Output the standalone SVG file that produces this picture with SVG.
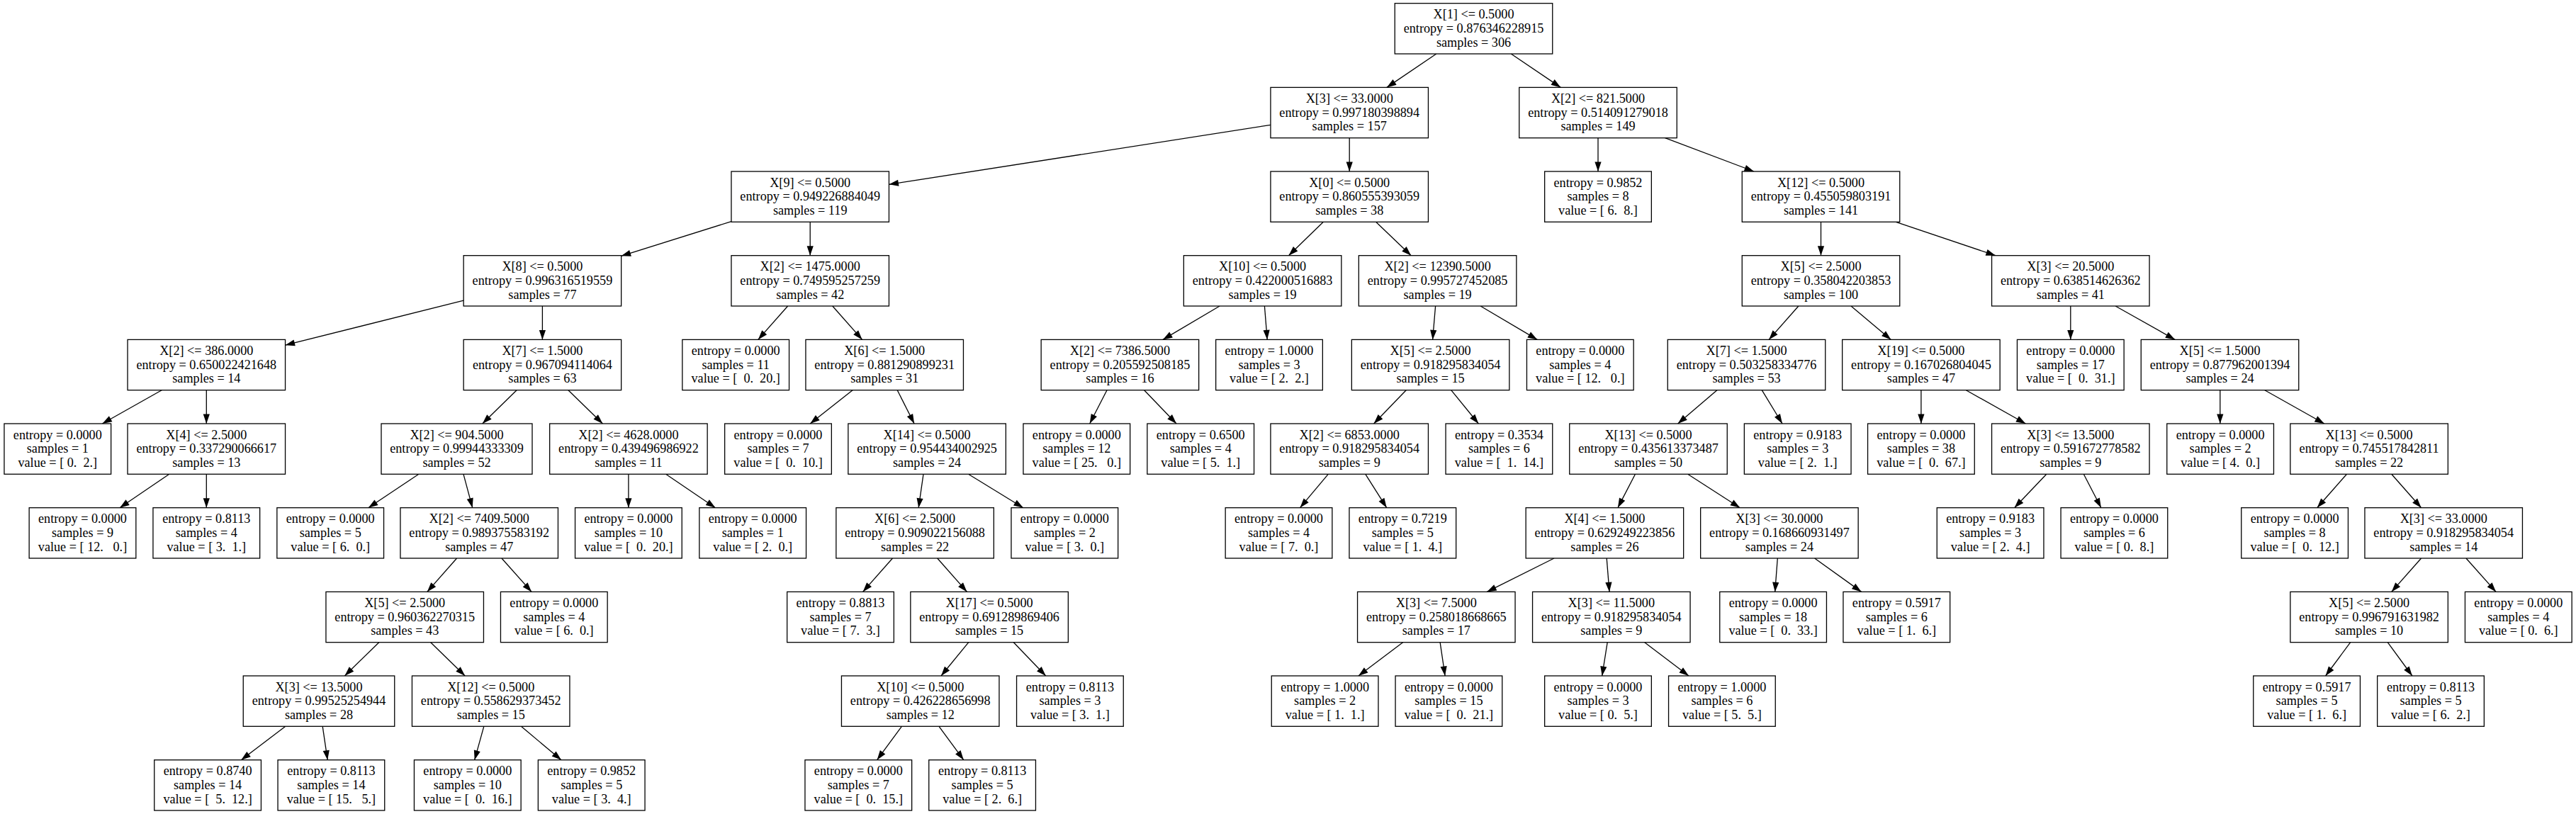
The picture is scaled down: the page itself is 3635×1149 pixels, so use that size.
<svg xmlns="http://www.w3.org/2000/svg" width="3635" height="1149" viewBox="0 0 3635 1149" xml:space="preserve">
<style>
.n rect{fill:#fff;stroke:#000;stroke-width:1.3}
.n text{font-family:"Liberation Serif","Times New Roman",serif;font-size:18.2px;text-anchor:middle;fill:#000;white-space:pre}
#edges line{stroke:#000;stroke-width:1.3;marker-end:url(#ah)}
</style>
<defs>
<marker id="ah" markerUnits="userSpaceOnUse" markerWidth="14" markerHeight="10" refX="13.5" refY="5" orient="auto" overflow="visible">
<path d="M0,0.4 L13.5,5 L0,9.6 Z" fill="#000"/>
</marker>
</defs>
<rect width="3635" height="1149" fill="#fff"/>
<g id="edges">
<line x1="2026.8" y1="76" x2="1956.9" y2="123.4"/>
<line x1="2132.3" y1="76" x2="2202.3" y2="123.4"/>
<line x1="1792.95" y1="176.35" x2="1254.45" y2="260.35"/>
<line x1="1904.2" y1="194.7" x2="1904.2" y2="242"/>
<line x1="2255" y1="194.7" x2="2255" y2="242"/>
<line x1="2349.5" y1="194.7" x2="2475" y2="242"/>
<line x1="1031.95" y1="312.64" x2="876.65" y2="361.36"/>
<line x1="1143.2" y1="313.3" x2="1143.2" y2="360.7"/>
<line x1="1867.35" y1="313.3" x2="1818.45" y2="360.7"/>
<line x1="1941.6" y1="313.3" x2="1991.2" y2="360.7"/>
<line x1="2569.5" y1="313.3" x2="2569.5" y2="360.7"/>
<line x1="2675.4" y1="313.3" x2="2815.9" y2="360.7"/>
<line x1="654.15" y1="424.15" x2="402.55" y2="487.15"/>
<line x1="765.4" y1="432" x2="765.4" y2="479.4"/>
<line x1="1111.64" y1="432" x2="1069.76" y2="479.4"/>
<line x1="1174.76" y1="432" x2="1216.64" y2="479.4"/>
<line x1="1721.1" y1="432" x2="1640.9" y2="479.4"/>
<line x1="1784.4" y1="432" x2="1788.2" y2="479.4"/>
<line x1="2025.6" y1="432" x2="2021.6" y2="479.4"/>
<line x1="2089.1" y1="432" x2="2169.3" y2="479.4"/>
<line x1="2537.9" y1="432" x2="2496.1" y2="479.4"/>
<line x1="2612" y1="432" x2="2668.4" y2="479.4"/>
<line x1="2921.8" y1="432" x2="2921.8" y2="479.4"/>
<line x1="2985.1" y1="432" x2="3069.2" y2="479.4"/>
<line x1="228.2" y1="550.7" x2="144.4" y2="598"/>
<line x1="291.3" y1="550.7" x2="291.3" y2="598"/>
<line x1="729.1" y1="550.7" x2="680.8" y2="598"/>
<line x1="801.9" y1="550.7" x2="850.4" y2="598"/>
<line x1="1203.1" y1="550.7" x2="1143.2" y2="598"/>
<line x1="1266.2" y1="550.7" x2="1290.1" y2="598"/>
<line x1="1562" y1="550.7" x2="1537.7" y2="598"/>
<line x1="1614.6" y1="550.7" x2="1660" y2="598"/>
<line x1="1984.2" y1="550.7" x2="1938.6" y2="598"/>
<line x1="2047.7" y1="550.7" x2="2086.3" y2="598"/>
<line x1="2422.9" y1="550.7" x2="2367.6" y2="598"/>
<line x1="2486.2" y1="550.7" x2="2515" y2="598"/>
<line x1="2710.9" y1="550.7" x2="2710.9" y2="598"/>
<line x1="2774.3" y1="550.7" x2="2858.4" y2="598"/>
<line x1="3132.8" y1="550.7" x2="3132.8" y2="598"/>
<line x1="3195.8" y1="550.7" x2="3279.8" y2="598"/>
<line x1="238.8" y1="669.3" x2="169" y2="716.7"/>
<line x1="291.3" y1="669.3" x2="291.3" y2="716.7"/>
<line x1="590.9" y1="669.3" x2="519.8" y2="716.7"/>
<line x1="654" y1="669.3" x2="666.7" y2="716.7"/>
<line x1="886.9" y1="669.3" x2="886.9" y2="716.7"/>
<line x1="939.6" y1="669.3" x2="1009.5" y2="716.7"/>
<line x1="1303" y1="669.3" x2="1296.2" y2="716.7"/>
<line x1="1366.5" y1="669.3" x2="1443.9" y2="716.7"/>
<line x1="1874.2" y1="669.3" x2="1834.5" y2="716.7"/>
<line x1="1926.8" y1="669.3" x2="1956.7" y2="716.7"/>
<line x1="2307.5" y1="669.3" x2="2282.9" y2="716.7"/>
<line x1="2381.6" y1="669.3" x2="2455.3" y2="716.7"/>
<line x1="2887.8" y1="669.3" x2="2842.6" y2="716.7"/>
<line x1="2940.3" y1="669.3" x2="2964.9" y2="716.7"/>
<line x1="3311.5" y1="669.3" x2="3269.7" y2="716.7"/>
<line x1="3374.7" y1="669.3" x2="3416.6" y2="716.7"/>
<line x1="644.6" y1="788" x2="602.8" y2="835.4"/>
<line x1="707.9" y1="788" x2="750.1" y2="835.4"/>
<line x1="1259.5" y1="788" x2="1217.6" y2="835.4"/>
<line x1="1322.7" y1="788" x2="1364.5" y2="835.4"/>
<line x1="2193" y1="788" x2="2098.2" y2="835.4"/>
<line x1="2267.2" y1="788" x2="2271" y2="835.4"/>
<line x1="2508.3" y1="788" x2="2504.7" y2="835.4"/>
<line x1="2560.6" y1="788" x2="2626.6" y2="835.4"/>
<line x1="3416.6" y1="788" x2="3374.7" y2="835.4"/>
<line x1="3479.9" y1="788" x2="3522.1" y2="835.4"/>
<line x1="534.8" y1="906.7" x2="486.4" y2="954"/>
<line x1="607.7" y1="906.7" x2="656.2" y2="954"/>
<line x1="1366.8" y1="906.7" x2="1328" y2="954"/>
<line x1="1430.3" y1="906.7" x2="1475.7" y2="954"/>
<line x1="1979.6" y1="906.7" x2="1916.9" y2="954"/>
<line x1="2032.1" y1="906.7" x2="2039.1" y2="954"/>
<line x1="2268.2" y1="906.7" x2="2260.7" y2="954"/>
<line x1="2320.7" y1="906.7" x2="2383" y2="954"/>
<line x1="3316.7" y1="906.7" x2="3281.6" y2="954"/>
<line x1="3369.2" y1="906.7" x2="3403.9" y2="954"/>
<line x1="402.8" y1="1025.3" x2="340.3" y2="1072.7"/>
<line x1="455.2" y1="1025.3" x2="462.2" y2="1072.7"/>
<line x1="682.8" y1="1025.3" x2="669.7" y2="1072.7"/>
<line x1="735.4" y1="1025.3" x2="792" y2="1072.7"/>
<line x1="1272.4" y1="1025.3" x2="1237.6" y2="1072.7"/>
<line x1="1325" y1="1025.3" x2="1359.8" y2="1072.7"/>
</g>
<g id="n0" class="n" transform="translate(2079.5,4.7)"><rect x="-111.25" width="222.5" height="71.3"/><text><tspan x="0" y="21.5">X[1] &lt;= 0.5000</tspan><tspan x="0" y="41.3">entropy = 0.876346228915</tspan><tspan x="0" y="61.1">samples = 306</tspan></text></g>
<g id="n1" class="n" transform="translate(1904.2,123.4)"><rect x="-111.25" width="222.5" height="71.3"/><text><tspan x="0" y="21.5">X[3] &lt;= 33.0000</tspan><tspan x="0" y="41.3">entropy = 0.997180398894</tspan><tspan x="0" y="61.1">samples = 157</tspan></text></g>
<g id="n2" class="n" transform="translate(2255,123.4)"><rect x="-111.25" width="222.5" height="71.3"/><text><tspan x="0" y="21.5">X[2] &lt;= 821.5000</tspan><tspan x="0" y="41.3">entropy = 0.514091279018</tspan><tspan x="0" y="61.1">samples = 149</tspan></text></g>
<g id="n3" class="n" transform="translate(1143.2,242)"><rect x="-111.25" width="222.5" height="71.3"/><text><tspan x="0" y="21.5">X[9] &lt;= 0.5000</tspan><tspan x="0" y="41.3">entropy = 0.949226884049</tspan><tspan x="0" y="61.1">samples = 119</tspan></text></g>
<g id="n4" class="n" transform="translate(1904.2,242)"><rect x="-111.25" width="222.5" height="71.3"/><text><tspan x="0" y="21.5">X[0] &lt;= 0.5000</tspan><tspan x="0" y="41.3">entropy = 0.860555393059</tspan><tspan x="0" y="61.1">samples = 38</tspan></text></g>
<g id="n5" class="n" transform="translate(2255,242)"><rect x="-75.35" width="150.7" height="71.3"/><text><tspan x="0" y="21.5">entropy = 0.9852</tspan><tspan x="0" y="41.3">samples = 8</tspan><tspan x="0" y="61.1">value = [ 6.  8.]</tspan></text></g>
<g id="n6" class="n" transform="translate(2569.5,242)"><rect x="-111.25" width="222.5" height="71.3"/><text><tspan x="0" y="21.5">X[12] &lt;= 0.5000</tspan><tspan x="0" y="41.3">entropy = 0.455059803191</tspan><tspan x="0" y="61.1">samples = 141</tspan></text></g>
<g id="n7" class="n" transform="translate(765.4,360.7)"><rect x="-111.25" width="222.5" height="71.3"/><text><tspan x="0" y="21.5">X[8] &lt;= 0.5000</tspan><tspan x="0" y="41.3">entropy = 0.996316519559</tspan><tspan x="0" y="61.1">samples = 77</tspan></text></g>
<g id="n8" class="n" transform="translate(1143.2,360.7)"><rect x="-111.25" width="222.5" height="71.3"/><text><tspan x="0" y="21.5">X[2] &lt;= 1475.0000</tspan><tspan x="0" y="41.3">entropy = 0.749595257259</tspan><tspan x="0" y="61.1">samples = 42</tspan></text></g>
<g id="n9" class="n" transform="translate(1781.6,360.7)"><rect x="-111.25" width="222.5" height="71.3"/><text><tspan x="0" y="21.5">X[10] &lt;= 0.5000</tspan><tspan x="0" y="41.3">entropy = 0.422000516883</tspan><tspan x="0" y="61.1">samples = 19</tspan></text></g>
<g id="n10" class="n" transform="translate(2028.6,360.7)"><rect x="-111.25" width="222.5" height="71.3"/><text><tspan x="0" y="21.5">X[2] &lt;= 12390.5000</tspan><tspan x="0" y="41.3">entropy = 0.995727452085</tspan><tspan x="0" y="61.1">samples = 19</tspan></text></g>
<g id="n11" class="n" transform="translate(2569.5,360.7)"><rect x="-111.25" width="222.5" height="71.3"/><text><tspan x="0" y="21.5">X[5] &lt;= 2.5000</tspan><tspan x="0" y="41.3">entropy = 0.358042203853</tspan><tspan x="0" y="61.1">samples = 100</tspan></text></g>
<g id="n12" class="n" transform="translate(2921.8,360.7)"><rect x="-111.25" width="222.5" height="71.3"/><text><tspan x="0" y="21.5">X[3] &lt;= 20.5000</tspan><tspan x="0" y="41.3">entropy = 0.638514626362</tspan><tspan x="0" y="61.1">samples = 41</tspan></text></g>
<g id="n13" class="n" transform="translate(291.3,479.4)"><rect x="-111.25" width="222.5" height="71.3"/><text><tspan x="0" y="21.5">X[2] &lt;= 386.0000</tspan><tspan x="0" y="41.3">entropy = 0.650022421648</tspan><tspan x="0" y="61.1">samples = 14</tspan></text></g>
<g id="n14" class="n" transform="translate(765.4,479.4)"><rect x="-111.25" width="222.5" height="71.3"/><text><tspan x="0" y="21.5">X[7] &lt;= 1.5000</tspan><tspan x="0" y="41.3">entropy = 0.967094114064</tspan><tspan x="0" y="61.1">samples = 63</tspan></text></g>
<g id="n15" class="n" transform="translate(1038.2,479.4)"><rect x="-75.35" width="150.7" height="71.3"/><text><tspan x="0" y="21.5">entropy = 0.0000</tspan><tspan x="0" y="41.3">samples = 11</tspan><tspan x="0" y="61.1">value = [  0.  20.]</tspan></text></g>
<g id="n16" class="n" transform="translate(1248.2,479.4)"><rect x="-111.25" width="222.5" height="71.3"/><text><tspan x="0" y="21.5">X[6] &lt;= 1.5000</tspan><tspan x="0" y="41.3">entropy = 0.881290899231</tspan><tspan x="0" y="61.1">samples = 31</tspan></text></g>
<g id="n17" class="n" transform="translate(1580.4,479.4)"><rect x="-111.25" width="222.5" height="71.3"/><text><tspan x="0" y="21.5">X[2] &lt;= 7386.5000</tspan><tspan x="0" y="41.3">entropy = 0.205592508185</tspan><tspan x="0" y="61.1">samples = 16</tspan></text></g>
<g id="n18" class="n" transform="translate(1791,479.4)"><rect x="-75.35" width="150.7" height="71.3"/><text><tspan x="0" y="21.5">entropy = 1.0000</tspan><tspan x="0" y="41.3">samples = 3</tspan><tspan x="0" y="61.1">value = [ 2.  2.]</tspan></text></g>
<g id="n19" class="n" transform="translate(2018.6,479.4)"><rect x="-111.25" width="222.5" height="71.3"/><text><tspan x="0" y="21.5">X[5] &lt;= 2.5000</tspan><tspan x="0" y="41.3">entropy = 0.918295834054</tspan><tspan x="0" y="61.1">samples = 15</tspan></text></g>
<g id="n20" class="n" transform="translate(2229.8,479.4)"><rect x="-75.35" width="150.7" height="71.3"/><text><tspan x="0" y="21.5">entropy = 0.0000</tspan><tspan x="0" y="41.3">samples = 4</tspan><tspan x="0" y="61.1">value = [ 12.   0.]</tspan></text></g>
<g id="n21" class="n" transform="translate(2464.5,479.4)"><rect x="-111.25" width="222.5" height="71.3"/><text><tspan x="0" y="21.5">X[7] &lt;= 1.5000</tspan><tspan x="0" y="41.3">entropy = 0.503258334776</tspan><tspan x="0" y="61.1">samples = 53</tspan></text></g>
<g id="n22" class="n" transform="translate(2710.9,479.4)"><rect x="-111.25" width="222.5" height="71.3"/><text><tspan x="0" y="21.5">X[19] &lt;= 0.5000</tspan><tspan x="0" y="41.3">entropy = 0.167026804045</tspan><tspan x="0" y="61.1">samples = 47</tspan></text></g>
<g id="n23" class="n" transform="translate(2921.8,479.4)"><rect x="-75.35" width="150.7" height="71.3"/><text><tspan x="0" y="21.5">entropy = 0.0000</tspan><tspan x="0" y="41.3">samples = 17</tspan><tspan x="0" y="61.1">value = [  0.  31.]</tspan></text></g>
<g id="n24" class="n" transform="translate(3132.5,479.4)"><rect x="-111.25" width="222.5" height="71.3"/><text><tspan x="0" y="21.5">X[5] &lt;= 1.5000</tspan><tspan x="0" y="41.3">entropy = 0.877962001394</tspan><tspan x="0" y="61.1">samples = 24</tspan></text></g>
<g id="n25" class="n" transform="translate(81.3,598)"><rect x="-75.35" width="150.7" height="71.3"/><text><tspan x="0" y="21.5">entropy = 0.0000</tspan><tspan x="0" y="41.3">samples = 1</tspan><tspan x="0" y="61.1">value = [ 0.  2.]</tspan></text></g>
<g id="n26" class="n" transform="translate(291.3,598)"><rect x="-111.25" width="222.5" height="71.3"/><text><tspan x="0" y="21.5">X[4] &lt;= 2.5000</tspan><tspan x="0" y="41.3">entropy = 0.337290066617</tspan><tspan x="0" y="61.1">samples = 13</tspan></text></g>
<g id="n27" class="n" transform="translate(644.5,598)"><rect x="-106.5" width="213" height="71.3"/><text><tspan x="0" y="21.5">X[2] &lt;= 904.5000</tspan><tspan x="0" y="41.3">entropy = 0.99944333309</tspan><tspan x="0" y="61.1">samples = 52</tspan></text></g>
<g id="n28" class="n" transform="translate(886.9,598)"><rect x="-111.25" width="222.5" height="71.3"/><text><tspan x="0" y="21.5">X[2] &lt;= 4628.0000</tspan><tspan x="0" y="41.3">entropy = 0.439496986922</tspan><tspan x="0" y="61.1">samples = 11</tspan></text></g>
<g id="n29" class="n" transform="translate(1098,598)"><rect x="-75.35" width="150.7" height="71.3"/><text><tspan x="0" y="21.5">entropy = 0.0000</tspan><tspan x="0" y="41.3">samples = 7</tspan><tspan x="0" y="61.1">value = [  0.  10.]</tspan></text></g>
<g id="n30" class="n" transform="translate(1308.1,598)"><rect x="-111.25" width="222.5" height="71.3"/><text><tspan x="0" y="21.5">X[14] &lt;= 0.5000</tspan><tspan x="0" y="41.3">entropy = 0.954434002925</tspan><tspan x="0" y="61.1">samples = 24</tspan></text></g>
<g id="n31" class="n" transform="translate(1519.3,598)"><rect x="-75.35" width="150.7" height="71.3"/><text><tspan x="0" y="21.5">entropy = 0.0000</tspan><tspan x="0" y="41.3">samples = 12</tspan><tspan x="0" y="61.1">value = [ 25.   0.]</tspan></text></g>
<g id="n32" class="n" transform="translate(1694.2,598)"><rect x="-75.35" width="150.7" height="71.3"/><text><tspan x="0" y="21.5">entropy = 0.6500</tspan><tspan x="0" y="41.3">samples = 4</tspan><tspan x="0" y="61.1">value = [ 5.  1.]</tspan></text></g>
<g id="n33" class="n" transform="translate(1904.2,598)"><rect x="-111.25" width="222.5" height="71.3"/><text><tspan x="0" y="21.5">X[2] &lt;= 6853.0000</tspan><tspan x="0" y="41.3">entropy = 0.918295834054</tspan><tspan x="0" y="61.1">samples = 9</tspan></text></g>
<g id="n34" class="n" transform="translate(2115.4,598)"><rect x="-75.35" width="150.7" height="71.3"/><text><tspan x="0" y="21.5">entropy = 0.3534</tspan><tspan x="0" y="41.3">samples = 6</tspan><tspan x="0" y="61.1">value = [  1.  14.]</tspan></text></g>
<g id="n35" class="n" transform="translate(2326,598)"><rect x="-111.25" width="222.5" height="71.3"/><text><tspan x="0" y="21.5">X[13] &lt;= 0.5000</tspan><tspan x="0" y="41.3">entropy = 0.435613373487</tspan><tspan x="0" y="61.1">samples = 50</tspan></text></g>
<g id="n36" class="n" transform="translate(2536.7,598)"><rect x="-75.35" width="150.7" height="71.3"/><text><tspan x="0" y="21.5">entropy = 0.9183</tspan><tspan x="0" y="41.3">samples = 3</tspan><tspan x="0" y="61.1">value = [ 2.  1.]</tspan></text></g>
<g id="n37" class="n" transform="translate(2710.9,598)"><rect x="-75.35" width="150.7" height="71.3"/><text><tspan x="0" y="21.5">entropy = 0.0000</tspan><tspan x="0" y="41.3">samples = 38</tspan><tspan x="0" y="61.1">value = [  0.  67.]</tspan></text></g>
<g id="n38" class="n" transform="translate(2921.8,598)"><rect x="-111.25" width="222.5" height="71.3"/><text><tspan x="0" y="21.5">X[3] &lt;= 13.5000</tspan><tspan x="0" y="41.3">entropy = 0.591672778582</tspan><tspan x="0" y="61.1">samples = 9</tspan></text></g>
<g id="n39" class="n" transform="translate(3133.1,598)"><rect x="-75.35" width="150.7" height="71.3"/><text><tspan x="0" y="21.5">entropy = 0.0000</tspan><tspan x="0" y="41.3">samples = 2</tspan><tspan x="0" y="61.1">value = [ 4.  0.]</tspan></text></g>
<g id="n40" class="n" transform="translate(3343.1,598)"><rect x="-111.25" width="222.5" height="71.3"/><text><tspan x="0" y="21.5">X[13] &lt;= 0.5000</tspan><tspan x="0" y="41.3">entropy = 0.745517842811</tspan><tspan x="0" y="61.1">samples = 22</tspan></text></g>
<g id="n41" class="n" transform="translate(116.5,716.7)"><rect x="-75.35" width="150.7" height="71.3"/><text><tspan x="0" y="21.5">entropy = 0.0000</tspan><tspan x="0" y="41.3">samples = 9</tspan><tspan x="0" y="61.1">value = [ 12.   0.]</tspan></text></g>
<g id="n42" class="n" transform="translate(291.3,716.7)"><rect x="-75.35" width="150.7" height="71.3"/><text><tspan x="0" y="21.5">entropy = 0.8113</tspan><tspan x="0" y="41.3">samples = 4</tspan><tspan x="0" y="61.1">value = [ 3.  1.]</tspan></text></g>
<g id="n43" class="n" transform="translate(466.2,716.7)"><rect x="-75.35" width="150.7" height="71.3"/><text><tspan x="0" y="21.5">entropy = 0.0000</tspan><tspan x="0" y="41.3">samples = 5</tspan><tspan x="0" y="61.1">value = [ 6.  0.]</tspan></text></g>
<g id="n44" class="n" transform="translate(676.2,716.7)"><rect x="-111.25" width="222.5" height="71.3"/><text><tspan x="0" y="21.5">X[2] &lt;= 7409.5000</tspan><tspan x="0" y="41.3">entropy = 0.989375583192</tspan><tspan x="0" y="61.1">samples = 47</tspan></text></g>
<g id="n45" class="n" transform="translate(886.9,716.7)"><rect x="-75.35" width="150.7" height="71.3"/><text><tspan x="0" y="21.5">entropy = 0.0000</tspan><tspan x="0" y="41.3">samples = 10</tspan><tspan x="0" y="61.1">value = [  0.  20.]</tspan></text></g>
<g id="n46" class="n" transform="translate(1062.2,716.7)"><rect x="-75.35" width="150.7" height="71.3"/><text><tspan x="0" y="21.5">entropy = 0.0000</tspan><tspan x="0" y="41.3">samples = 1</tspan><tspan x="0" y="61.1">value = [ 2.  0.]</tspan></text></g>
<g id="n47" class="n" transform="translate(1291.1,716.7)"><rect x="-111.25" width="222.5" height="71.3"/><text><tspan x="0" y="21.5">X[6] &lt;= 2.5000</tspan><tspan x="0" y="41.3">entropy = 0.909022156088</tspan><tspan x="0" y="61.1">samples = 22</tspan></text></g>
<g id="n48" class="n" transform="translate(1502.3,716.7)"><rect x="-75.35" width="150.7" height="71.3"/><text><tspan x="0" y="21.5">entropy = 0.0000</tspan><tspan x="0" y="41.3">samples = 2</tspan><tspan x="0" y="61.1">value = [ 3.  0.]</tspan></text></g>
<g id="n49" class="n" transform="translate(1804.5,716.7)"><rect x="-75.35" width="150.7" height="71.3"/><text><tspan x="0" y="21.5">entropy = 0.0000</tspan><tspan x="0" y="41.3">samples = 4</tspan><tspan x="0" y="61.1">value = [ 7.  0.]</tspan></text></g>
<g id="n50" class="n" transform="translate(1979.3,716.7)"><rect x="-75.35" width="150.7" height="71.3"/><text><tspan x="0" y="21.5">entropy = 0.7219</tspan><tspan x="0" y="41.3">samples = 5</tspan><tspan x="0" y="61.1">value = [ 1.  4.]</tspan></text></g>
<g id="n51" class="n" transform="translate(2264.4,716.7)"><rect x="-111.25" width="222.5" height="71.3"/><text><tspan x="0" y="21.5">X[4] &lt;= 1.5000</tspan><tspan x="0" y="41.3">entropy = 0.629249223856</tspan><tspan x="0" y="61.1">samples = 26</tspan></text></g>
<g id="n52" class="n" transform="translate(2510.9,716.7)"><rect x="-111.25" width="222.5" height="71.3"/><text><tspan x="0" y="21.5">X[3] &lt;= 30.0000</tspan><tspan x="0" y="41.3">entropy = 0.168660931497</tspan><tspan x="0" y="61.1">samples = 24</tspan></text></g>
<g id="n53" class="n" transform="translate(2808.6,716.7)"><rect x="-75.35" width="150.7" height="71.3"/><text><tspan x="0" y="21.5">entropy = 0.9183</tspan><tspan x="0" y="41.3">samples = 3</tspan><tspan x="0" y="61.1">value = [ 2.  4.]</tspan></text></g>
<g id="n54" class="n" transform="translate(2983.4,716.7)"><rect x="-75.35" width="150.7" height="71.3"/><text><tspan x="0" y="21.5">entropy = 0.0000</tspan><tspan x="0" y="41.3">samples = 6</tspan><tspan x="0" y="61.1">value = [ 0.  8.]</tspan></text></g>
<g id="n55" class="n" transform="translate(3238.1,716.7)"><rect x="-75.35" width="150.7" height="71.3"/><text><tspan x="0" y="21.5">entropy = 0.0000</tspan><tspan x="0" y="41.3">samples = 8</tspan><tspan x="0" y="61.1">value = [  0.  12.]</tspan></text></g>
<g id="n56" class="n" transform="translate(3448.2,716.7)"><rect x="-111.25" width="222.5" height="71.3"/><text><tspan x="0" y="21.5">X[3] &lt;= 33.0000</tspan><tspan x="0" y="41.3">entropy = 0.918295834054</tspan><tspan x="0" y="61.1">samples = 14</tspan></text></g>
<g id="n57" class="n" transform="translate(571.2,835.4)"><rect x="-111.25" width="222.5" height="71.3"/><text><tspan x="0" y="21.5">X[5] &lt;= 2.5000</tspan><tspan x="0" y="41.3">entropy = 0.960362270315</tspan><tspan x="0" y="61.1">samples = 43</tspan></text></g>
<g id="n58" class="n" transform="translate(781.8,835.4)"><rect x="-75.35" width="150.7" height="71.3"/><text><tspan x="0" y="21.5">entropy = 0.0000</tspan><tspan x="0" y="41.3">samples = 4</tspan><tspan x="0" y="61.1">value = [ 6.  0.]</tspan></text></g>
<g id="n59" class="n" transform="translate(1186,835.4)"><rect x="-75.35" width="150.7" height="71.3"/><text><tspan x="0" y="21.5">entropy = 0.8813</tspan><tspan x="0" y="41.3">samples = 7</tspan><tspan x="0" y="61.1">value = [ 7.  3.]</tspan></text></g>
<g id="n60" class="n" transform="translate(1396.1,835.4)"><rect x="-111.25" width="222.5" height="71.3"/><text><tspan x="0" y="21.5">X[17] &lt;= 0.5000</tspan><tspan x="0" y="41.3">entropy = 0.691289869406</tspan><tspan x="0" y="61.1">samples = 15</tspan></text></g>
<g id="n61" class="n" transform="translate(2026.8,835.4)"><rect x="-111.25" width="222.5" height="71.3"/><text><tspan x="0" y="21.5">X[3] &lt;= 7.5000</tspan><tspan x="0" y="41.3">entropy = 0.258018668665</tspan><tspan x="0" y="61.1">samples = 17</tspan></text></g>
<g id="n62" class="n" transform="translate(2273.8,835.4)"><rect x="-111.25" width="222.5" height="71.3"/><text><tspan x="0" y="21.5">X[3] &lt;= 11.5000</tspan><tspan x="0" y="41.3">entropy = 0.918295834054</tspan><tspan x="0" y="61.1">samples = 9</tspan></text></g>
<g id="n63" class="n" transform="translate(2502.1,835.4)"><rect x="-75.35" width="150.7" height="71.3"/><text><tspan x="0" y="21.5">entropy = 0.0000</tspan><tspan x="0" y="41.3">samples = 18</tspan><tspan x="0" y="61.1">value = [  0.  33.]</tspan></text></g>
<g id="n64" class="n" transform="translate(2676.3,835.4)"><rect x="-75.35" width="150.7" height="71.3"/><text><tspan x="0" y="21.5">entropy = 0.5917</tspan><tspan x="0" y="41.3">samples = 6</tspan><tspan x="0" y="61.1">value = [ 1.  6.]</tspan></text></g>
<g id="n65" class="n" transform="translate(3343.1,835.4)"><rect x="-111.25" width="222.5" height="71.3"/><text><tspan x="0" y="21.5">X[5] &lt;= 2.5000</tspan><tspan x="0" y="41.3">entropy = 0.996791631982</tspan><tspan x="0" y="61.1">samples = 10</tspan></text></g>
<g id="n66" class="n" transform="translate(3553.8,835.4)"><rect x="-75.35" width="150.7" height="71.3"/><text><tspan x="0" y="21.5">entropy = 0.0000</tspan><tspan x="0" y="41.3">samples = 4</tspan><tspan x="0" y="61.1">value = [ 0.  6.]</tspan></text></g>
<g id="n67" class="n" transform="translate(450,954)"><rect x="-106.75" width="213.5" height="71.3"/><text><tspan x="0" y="21.5">X[3] &lt;= 13.5000</tspan><tspan x="0" y="41.3">entropy = 0.99525254944</tspan><tspan x="0" y="61.1">samples = 28</tspan></text></g>
<g id="n68" class="n" transform="translate(692.7,954)"><rect x="-111.25" width="222.5" height="71.3"/><text><tspan x="0" y="21.5">X[12] &lt;= 0.5000</tspan><tspan x="0" y="41.3">entropy = 0.558629373452</tspan><tspan x="0" y="61.1">samples = 15</tspan></text></g>
<g id="n69" class="n" transform="translate(1298.7,954)"><rect x="-111.25" width="222.5" height="71.3"/><text><tspan x="0" y="21.5">X[10] &lt;= 0.5000</tspan><tspan x="0" y="41.3">entropy = 0.426228656998</tspan><tspan x="0" y="61.1">samples = 12</tspan></text></g>
<g id="n70" class="n" transform="translate(1509.9,954)"><rect x="-75.35" width="150.7" height="71.3"/><text><tspan x="0" y="21.5">entropy = 0.8113</tspan><tspan x="0" y="41.3">samples = 3</tspan><tspan x="0" y="61.1">value = [ 3.  1.]</tspan></text></g>
<g id="n71" class="n" transform="translate(1869.6,954)"><rect x="-75.35" width="150.7" height="71.3"/><text><tspan x="0" y="21.5">entropy = 1.0000</tspan><tspan x="0" y="41.3">samples = 2</tspan><tspan x="0" y="61.1">value = [ 1.  1.]</tspan></text></g>
<g id="n72" class="n" transform="translate(2044.4,954)"><rect x="-75.35" width="150.7" height="71.3"/><text><tspan x="0" y="21.5">entropy = 0.0000</tspan><tspan x="0" y="41.3">samples = 15</tspan><tspan x="0" y="61.1">value = [  0.  21.]</tspan></text></g>
<g id="n73" class="n" transform="translate(2255,954)"><rect x="-75.35" width="150.7" height="71.3"/><text><tspan x="0" y="21.5">entropy = 0.0000</tspan><tspan x="0" y="41.3">samples = 3</tspan><tspan x="0" y="61.1">value = [ 0.  5.]</tspan></text></g>
<g id="n74" class="n" transform="translate(2429.9,954)"><rect x="-75.35" width="150.7" height="71.3"/><text><tspan x="0" y="21.5">entropy = 1.0000</tspan><tspan x="0" y="41.3">samples = 6</tspan><tspan x="0" y="61.1">value = [ 5.  5.]</tspan></text></g>
<g id="n75" class="n" transform="translate(3255.1,954)"><rect x="-75.35" width="150.7" height="71.3"/><text><tspan x="0" y="21.5">entropy = 0.5917</tspan><tspan x="0" y="41.3">samples = 5</tspan><tspan x="0" y="61.1">value = [ 1.  6.]</tspan></text></g>
<g id="n76" class="n" transform="translate(3430,954)"><rect x="-75.35" width="150.7" height="71.3"/><text><tspan x="0" y="21.5">entropy = 0.8113</tspan><tspan x="0" y="41.3">samples = 5</tspan><tspan x="0" y="61.1">value = [ 6.  2.]</tspan></text></g>
<g id="n77" class="n" transform="translate(293.1,1072.7)"><rect x="-75.35" width="150.7" height="71.3"/><text><tspan x="0" y="21.5">entropy = 0.8740</tspan><tspan x="0" y="41.3">samples = 14</tspan><tspan x="0" y="61.1">value = [  5.  12.]</tspan></text></g>
<g id="n78" class="n" transform="translate(467.4,1072.7)"><rect x="-75.35" width="150.7" height="71.3"/><text><tspan x="0" y="21.5">entropy = 0.8113</tspan><tspan x="0" y="41.3">samples = 14</tspan><tspan x="0" y="61.1">value = [ 15.   5.]</tspan></text></g>
<g id="n79" class="n" transform="translate(659.8,1072.7)"><rect x="-75.35" width="150.7" height="71.3"/><text><tspan x="0" y="21.5">entropy = 0.0000</tspan><tspan x="0" y="41.3">samples = 10</tspan><tspan x="0" y="61.1">value = [  0.  16.]</tspan></text></g>
<g id="n80" class="n" transform="translate(834.7,1072.7)"><rect x="-75.35" width="150.7" height="71.3"/><text><tspan x="0" y="21.5">entropy = 0.9852</tspan><tspan x="0" y="41.3">samples = 5</tspan><tspan x="0" y="61.1">value = [ 3.  4.]</tspan></text></g>
<g id="n81" class="n" transform="translate(1211.3,1072.7)"><rect x="-75.35" width="150.7" height="71.3"/><text><tspan x="0" y="21.5">entropy = 0.0000</tspan><tspan x="0" y="41.3">samples = 7</tspan><tspan x="0" y="61.1">value = [  0.  15.]</tspan></text></g>
<g id="n82" class="n" transform="translate(1386.1,1072.7)"><rect x="-75.35" width="150.7" height="71.3"/><text><tspan x="0" y="21.5">entropy = 0.8113</tspan><tspan x="0" y="41.3">samples = 5</tspan><tspan x="0" y="61.1">value = [ 2.  6.]</tspan></text></g>
</svg>
